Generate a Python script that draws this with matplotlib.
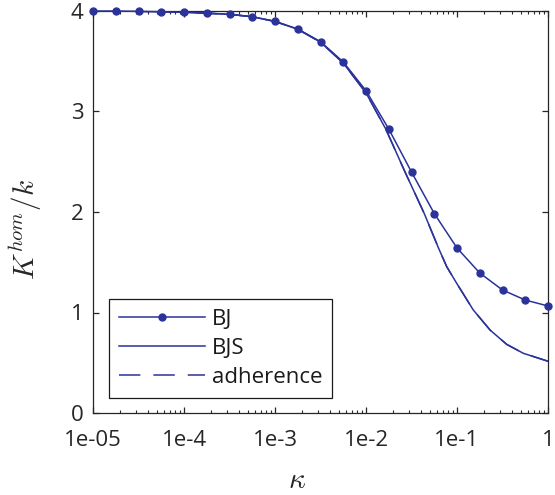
import matplotlib
matplotlib.use("Agg")
import matplotlib.pyplot as plt
from matplotlib.ticker import LogLocator, NullFormatter

plt.rcParams['font.family'] = ['Open Sans', 'DejaVu Sans']
plt.rcParams['mathtext.fontset'] = 'cm'

# ---- data ----
bj_logk = [-5.0, -4.75, -4.5, -4.25, -4.0, -3.75, -3.5, -3.25, -3.0, -2.75,
           -2.5, -2.25, -2.0, -1.75, -1.5, -1.25, -1.0, -0.75, -0.5, -0.25, 0.0]
bj_vals = [4.0, 4.0, 3.997, 3.993, 3.987, 3.98, 3.967, 3.943, 3.897, 3.821,
           3.695, 3.493, 3.207, 2.826, 2.398, 1.985, 1.642, 1.393, 1.224, 1.124, 1.065]

bjs_logk = [-5.0, -4.5, -4.0, -3.5, -3.25, -3.0, -2.75, -2.5, -2.25, -2.0,
            -1.783, -1.571, -1.359, -1.205, -1.113, -1.003, -0.821, -0.637,
            -0.454, -0.271, 0.0]
bjs_vals = [4.0, 3.997, 3.987, 3.967, 3.943, 3.896, 3.818, 3.69, 3.482, 3.185,
            2.826, 2.398, 1.983, 1.645, 1.456, 1.29, 1.025, 0.826,
            0.683, 0.594, 0.515]

adh_logk = list(bjs_logk)
adh_vals = list(bjs_vals)

xtick_vals = [1e-5, 1e-4, 1e-3, 1e-2, 1e-1, 1]
xtick_labels = ['1e-05', '1e-4', '1e-3', '1e-2', '1e-1', '1']
ytick_vals = [0, 1, 2, 3, 4]
ytick_labels = ['0', '1', '2', '3', '4']

color = '#2B339A'

fig = plt.figure(figsize=(5.55, 4.95), dpi=100)
ax = fig.add_axes([93 / 555, (495 - 413) / 495, 455 / 555, 402 / 495])

bj_k = [10 ** v for v in bj_logk]
bjs_k = [10 ** v for v in bjs_logk]
adh_k = [10 ** v for v in adh_logk]

ax.plot(bj_k, bj_vals, '-o', color=color, lw=1.1, ms=5, label='BJ', clip_on=False, zorder=3)
ax.plot(bjs_k, bjs_vals, '-', color=color, lw=1.1, label='BJS', zorder=2)
ax.plot(adh_k, adh_vals, '--', color=color, lw=1.1, dashes=(14, 8.5), label='adherence', zorder=2)

ax.set_xscale('log')
ax.set_xlim(1e-5, 1)
ax.set_ylim(0, 4)
ax.set_xticks(xtick_vals)
ax.set_xticklabels(xtick_labels)
ax.xaxis.set_minor_locator(LogLocator(base=10, subs=range(2, 10), numticks=20))
ax.xaxis.set_minor_formatter(NullFormatter())
ax.set_yticks(ytick_vals)
ax.set_yticklabels(ytick_labels)

for s in ax.spines.values():
    s.set_color('#262626')
    s.set_linewidth(0.9)

ax.tick_params(axis='both', which='both', direction='in', top=True, right=True,
               colors='#262626', labelcolor='#262626', labelsize=16)
ax.tick_params(axis='x', which='major', length=4, width=0.9, pad=12)
ax.tick_params(axis='x', which='minor', length=2.5, width=0.8)
ax.tick_params(axis='y', which='major', length=4, width=0.9, pad=7)

ax.set_xlabel(r'$\kappa$', fontsize=21, color='#262626')
ax.set_ylabel(r'$K^{hom}/k$', fontsize=21, color='#262626')
ax.xaxis.label.set_va('center')
ax.yaxis.label.set_va('center')
ax.xaxis.set_label_coords(0.448, -0.168)
ax.yaxis.set_label_coords(-0.149, 0.457)

leg = ax.legend(loc='lower left', bbox_to_anchor=(0.0352, 0.0373), borderaxespad=0,
                fontsize=16, handlelength=3.85, handletextpad=0.32, borderpad=0.45,
                labelspacing=0.36, numpoints=1, fancybox=False, framealpha=1,
                edgecolor='#1a1a1a', labelcolor='#1a1a1a')
leg.get_frame().set_linewidth(0.9)

fig.savefig('out.png', dpi=100)
